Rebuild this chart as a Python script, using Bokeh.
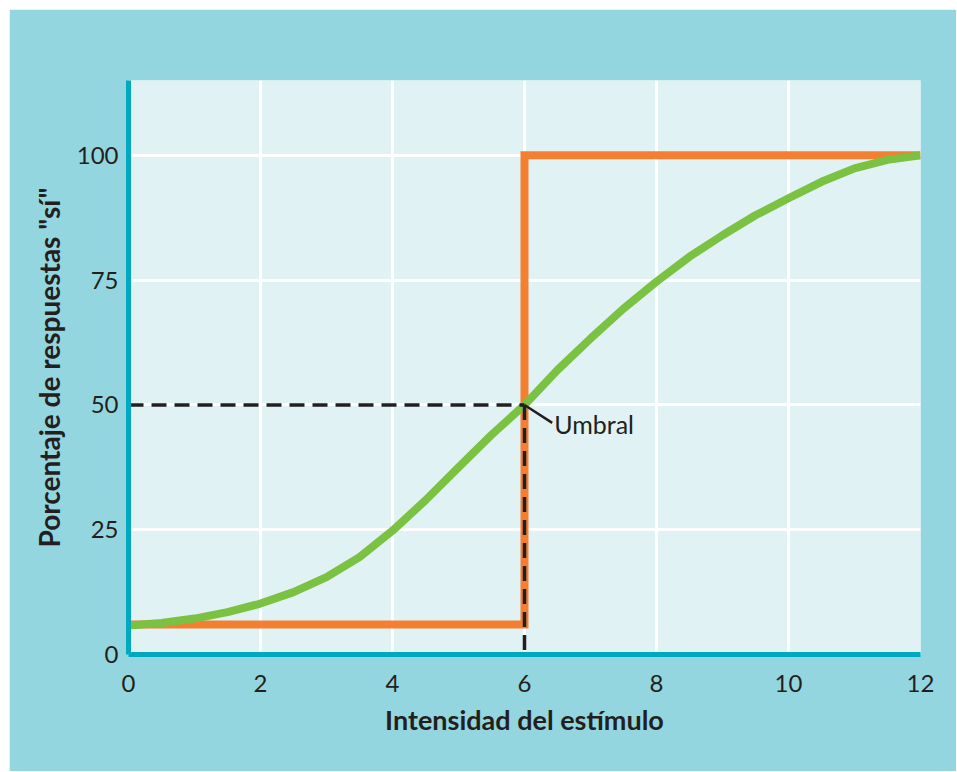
from bokeh.plotting import figure
from bokeh.models import Range1d, FixedTicker
from bokeh.embed import file_html
from bokeh.resources import INLINE
from bokeh.core.properties import value

# ---- data ----
intensity = [0, 0.5, 1, 1.5, 2, 2.5, 3, 3.5, 4, 4.5, 5, 5.5, 6,
             6.5, 7, 7.5, 8, 8.5, 9, 9.5, 10, 10.5, 11, 11.5, 12]
pct_yes = [5.8, 6.3, 7.2, 8.5, 10.2, 12.5, 15.5, 19.5, 24.8, 30.9, 37.5, 44.0, 50.0,
           57.0, 63.3, 69.3, 74.7, 79.7, 84.0, 88.0, 91.4, 94.7, 97.4, 99.1, 100.0]
ideal_x = [0, 6, 12]
ideal_y = [6, 100, 100]
threshold_x = 6
threshold_y = 50
x_ticks = [0, 2, 4, 6, 8, 10, 12]
y_ticks = [0, 25, 50, 75, 100]
annotation_text = "Umbral"

OUTER = "#93d6df"
INNER = "#e1f2f5"
AXIS = "#00a9bf"
ORANGE = "#f47f30"
GREEN = "#7bc142"
DARK = "#231f20"
FONT = "Lato"

p = figure(width=947, height=762, output_backend="svg", toolbar_location=None,
           x_range=Range1d(0, 12), y_range=Range1d(0, 115),
           min_border_left=119, min_border_right=36, min_border_top=71, min_border_bottom=117)
p.margin = (9, 0, 0, 9)
p.background_fill_color = INNER
p.border_fill_color = OUTER
p.outline_line_color = None

for ax in (p.xaxis, p.yaxis):
    ax.axis_line_color = AXIS
    ax.axis_line_width = 5
    ax.major_tick_line_color = None
    ax.minor_tick_line_color = None
    ax.major_tick_out = 0
    ax.major_label_text_font = FONT
    ax.major_label_text_font_size = "24px"
    ax.major_label_text_color = DARK
    ax.axis_label_text_font = FONT
    ax.axis_label_text_font_style = "bold"
    ax.axis_label_text_color = DARK

p.xaxis.axis_label_text_font_size = "27px"
p.yaxis.axis_label_text_font_size = "28px"
p.xaxis.ticker = FixedTicker(ticks=x_ticks)
p.yaxis.ticker = FixedTicker(ticks=y_ticks)
p.xaxis.major_label_standoff = 20
p.yaxis.major_label_standoff = 10
p.xaxis.axis_label = "Intensidad del estímulo"
p.yaxis.axis_label = 'Porcentaje de respuestas "sí"'
p.xaxis.axis_label_standoff = 8
p.yaxis.axis_label_standoff = 8

p.xgrid.ticker = FixedTicker(ticks=x_ticks[1:-1])
p.ygrid.ticker = FixedTicker(ticks=y_ticks[1:])
for g in (p.xgrid, p.ygrid):
    g.grid_line_color = "white"
    g.grid_line_width = 3

# ideal step response
p.step(ideal_x, ideal_y, mode="after", line_color=ORANGE, line_width=8, line_join="miter")

# real psychometric curve
p.line(intensity, pct_yes, line_color=GREEN, line_width=8, line_join="round")

# threshold dashed guides
p.line([0, threshold_x], [threshold_y, threshold_y], line_color=DARK, line_width=3.5, line_dash="15 8")
p.line([threshold_x, threshold_x], [threshold_y, 0], line_color=DARK, line_width=3.5, line_dash="15 8")

# annotation
p.segment(x0=[threshold_x], y0=[threshold_y], x1=[threshold_x + 0.42], y1=[threshold_y - 3.6],
          line_color=DARK, line_width=2.5)
p.text(x=[threshold_x + 0.45], y=[threshold_y - 3.8], text=[annotation_text],
       text_font=value(FONT), text_font_size="25px", text_color=DARK,
       text_align="left", text_baseline="alphabetic")

open("out.html", "w").write(file_html(p, INLINE))
